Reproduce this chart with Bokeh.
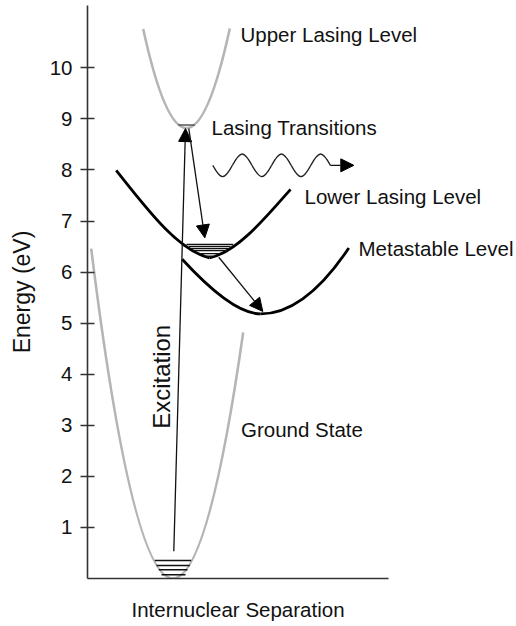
import numpy as np
from bokeh.plotting import figure
from bokeh.models import Range1d, FixedTicker, Arrow, NormalHead, ColumnDataSource
from bokeh.embed import file_html
from bokeh.resources import INLINE
from bokeh.core.properties import value

FONT = "Liberation Sans"
FS = "20.5px"

# ---- data (x: arbitrary internuclear units, y: eV) ----
y_ticks = [1, 2, 3, 4, 5, 6, 7, 8, 9, 10]
x_axis_extent = (0.0, 3.01)

curve_names = ["Ground State", "Upper Lasing Level", "Lower Lasing Level", "Metastable Level"]
left_x = [0.037, 0.557, 0.287, 0.947]
left_y = [6.46, 10.76, 7.99, 6.25]
min_x = [0.855, 0.990, 1.220, 1.730]
min_y = [0.00, 8.82, 6.28, 5.18]
right_x = [1.557, 1.423, 2.030, 2.613]
right_y = [4.82, 10.77, 7.62, 6.47]
curve_colors = ["#b5b5b5", "#b5b5b5", "#000000", "#000000"]

ground_lvl_y = [0.352, 0.254, 0.170, 0.072]
ground_lvl_x0 = [0.673, 0.690, 0.713, 0.740]
ground_lvl_x1 = [1.037, 1.023, 1.000, 0.980]

upper_lvl_y = [8.88]
upper_lvl_x0 = [0.907]
upper_lvl_x1 = [1.073]

lower_lvl_y = [6.54, 6.50, 6.46, 6.42, 6.36, 6.31]
lower_lvl_x0 = [0.990, 1.013, 1.037, 1.063, 1.130, 1.180]
lower_lvl_x1 = [1.457, 1.430, 1.410, 1.397, 1.313, 1.250]

arrow_x0 = [0.863, 1.013, 1.313, 2.429]
arrow_y0 = [0.535, 8.81, 6.29, 8.09]
arrow_x1 = [0.980, 1.173, 1.753, 2.663]
arrow_y1 = [8.81, 6.67, 5.23, 8.09]

wave_zero_x = [1.253, 1.449, 1.645, 1.841, 2.037, 2.233, 2.429]
wave_mid_y = 8.09
wave_amp = 0.222

label_text = ["Upper Lasing Level", "Lasing Transitions", "Lower Lasing Level",
              "Metastable Level", "Ground State"]
label_x = [1.53, 1.24, 2.17, 2.71, 1.535]
label_y = [10.646, 8.827, 7.476, 6.456, 2.914]

vlabel_text = ["Excitation"]
vlabel_x = [0.74]
vlabel_y = [2.93]

x_title = "Internuclear Separation"
y_title = "Energy (eV)"

# ---- figure ----
p = figure(width=516, height=626, output_backend="svg", toolbar_location=None,
           x_range=Range1d(0, 4.29), y_range=Range1d(0, 11.22),
           min_border_left=87, min_border_right=0, min_border_top=5, min_border_bottom=48,
           outline_line_color=None, background_fill_color="white",
           border_fill_color="white")
p.grid.visible = False

# x axis: line only over the drawn extent; its title is shown as a single centred label
x_mid = (x_axis_extent[0] + x_axis_extent[1]) / 2
xa = p.xaxis[0]
xa.ticker = FixedTicker(ticks=[x_mid])
xa.major_label_overrides = {x_mid: x_title}
xa.bounds = x_axis_extent
xa.major_tick_in = 0
xa.major_tick_out = 0
xa.minor_tick_in = 0
xa.minor_tick_out = 0
xa.major_label_standoff = 19
xa.major_label_text_font = FONT
xa.major_label_text_font_size = FS
xa.major_label_text_color = "#111111"
xa.axis_line_color = "#333333"
xa.axis_line_width = 1.6

ya = p.yaxis[0]
ya.ticker = FixedTicker(ticks=y_ticks)
ya.major_tick_in = 7
ya.major_tick_out = 7
ya.minor_tick_in = 0
ya.minor_tick_out = 0
ya.major_tick_line_color = "#333333"
ya.major_tick_line_width = 1.6
ya.axis_line_color = "#333333"
ya.axis_line_width = 1.6
ya.major_label_standoff = 8
ya.major_label_text_font = FONT
ya.major_label_text_font_size = FS
ya.major_label_text_color = "#111111"
ya.axis_label = y_title
ya.axis_label_text_font = FONT
ya.axis_label_text_font_size = "23px"
ya.axis_label_text_font_style = "normal"
ya.axis_label_text_color = "#111111"
ya.axis_label_standoff = 12

# ---- potential curves as Bezier halves (shape controls in normalised coords) ----
# (p1x, p1y, p2x, p2y) relative to minimum -> end
PARAB = (1/3, 0.0, 2/3, 1/3)
shape_left = [PARAB, PARAB, (1/3, 0.08, 2/3, 0.55), (0.24, 0.0, 0.573, 1/3)]
shape_right = [PARAB, PARAB, (1/3, 0.08, 2/3, 0.55), PARAB]
curve_width = [2.6, 2.6, 2.8, 2.8]

for i in range(len(curve_names)):
    for ex, ey, sh in ((left_x[i], left_y[i], shape_left[i]),
                       (right_x[i], right_y[i], shape_right[i])):
        mx, my = min_x[i], min_y[i]
        dx, dy = ex - mx, ey - my
        p.bezier(x0=[mx], y0=[my], x1=[ex], y1=[ey],
                 cx0=[mx + sh[0] * dx], cy0=[my + sh[1] * dy],
                 cx1=[mx + sh[2] * dx], cy1=[my + sh[3] * dy],
                 line_color=curve_colors[i], line_width=curve_width[i])

# ---- vibrational levels ----
p.segment(x0=ground_lvl_x0, y0=ground_lvl_y, x1=ground_lvl_x1, y1=ground_lvl_y,
          line_color="#111111", line_width=1.4)
p.segment(x0=upper_lvl_x0, y0=upper_lvl_y, x1=upper_lvl_x1, y1=upper_lvl_y,
          line_color="#555555", line_width=1.4)
p.segment(x0=lower_lvl_x0, y0=lower_lvl_y, x1=lower_lvl_x1, y1=lower_lvl_y,
          line_color="#111111", line_width=1.3)

# ---- wavy photon line ----
c = 4 / (3 * np.pi)
h = 4 * wave_amp / 3
wx0, wy0, wx1, wy1, wcx0, wcy0, wcx1, wcy1 = [], [], [], [], [], [], [], []
for k in range(len(wave_zero_x) - 1):
    a, b = wave_zero_x[k], wave_zero_x[k + 1]
    w = b - a
    sgn = -1 if k % 2 == 0 else 1
    wx0.append(a); wy0.append(wave_mid_y)
    wx1.append(b); wy1.append(wave_mid_y)
    wcx0.append(a + c * w); wcy0.append(wave_mid_y + sgn * h)
    wcx1.append(b - c * w); wcy1.append(wave_mid_y + sgn * h)
p.bezier(x0=wx0, y0=wy0, x1=wx1, y1=wy1, cx0=wcx0, cy0=wcy0, cx1=wcx1, cy1=wcy1,
         line_color="#222222", line_width=1.3)

# ---- arrows ----
asrc = ColumnDataSource(dict(x0=arrow_x0, y0=arrow_y0, x1=arrow_x1, y1=arrow_y1))
p.add_layout(Arrow(end=NormalHead(size=13, fill_color="black", line_color="black"),
                   x_start="x0", y_start="y0", x_end="x1", y_end="y1", source=asrc,
                   line_color="#111111", line_width=1.3))

# ---- texts ----
p.text(x=label_x, y=label_y, text=label_text, text_font=value(FONT),
       text_font_size=FS, text_color="#111111",
       text_align="left", text_baseline="middle")
p.text(x=vlabel_x, y=vlabel_y, text=vlabel_text, text_font=value(FONT),
       text_font_size="24px", text_color="#111111", angle=np.pi / 2,
       text_align="left", text_baseline="middle")

open("out.html", "w").write(file_html(p, INLINE))
